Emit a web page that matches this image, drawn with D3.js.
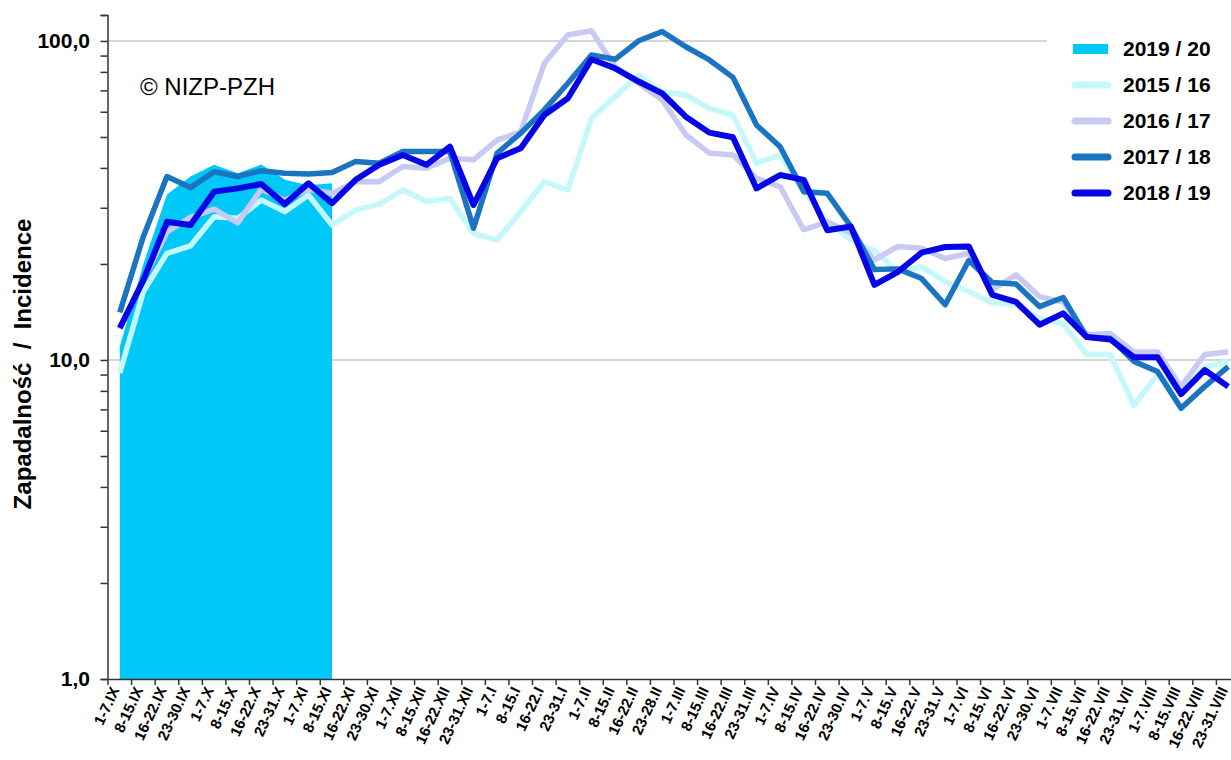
<!DOCTYPE html>
<html>
<head>
<meta charset="utf-8">
<script src="https://cdn.jsdelivr.net/npm/d3@7"></script>
<style>
  body { margin: 0; background: #fff; }
  text { font-family: Arial, "Liberation Sans", sans-serif; }
</style>
</head>
<body>
<div id="chart"></div>
<script>
// week labels (season Sept -> Aug)
var weeks = ["1-7.IX","8-15.IX","16-22.IX","23-30.IX","1-7.X","8-15.X","16-22.X","23-31.X",
  "1-7.XI","8-15.XI","16-22.XI","23-30.XI","1-7.XII","8-15.XII","16-22.XII","23-31.XII",
  "1-7.I","8-15.I","16-22.I","23-31.I","1-7.II","8-15.II","16-22.II","23-28.II",
  "1-7.III","8-15.III","16-22.III","23-31.III","1-7.IV","8-15.IV","16-22.IV","23-30.IV",
  "1-7.V","8-15.V","16-22.V","23-31.V","1-7.VI","8-15.VI","16-22.VI","23-30.VI",
  "1-7.VII","8-15.VII","16-22.VII","23-31.VII","1-7.VIII","8-15.VIII","16-22.VIII","23-31.VIII"];

var s1516 = [9.1,16.4,21.6,22.8,28.1,27.8,31.7,29.2,32.9,26.5,
  29.5,30.8,34.1,31.4,32.1,24.9,23.8,29.2,36.2,34.1,
  57.2,66.9,78.2,69.3,67.7,61.5,58.6,41.4,43.9,34,
  27,23.8,22,18.9,19.6,17.6,16.4,15.1,14.9,13.5,
  13.0,10.4,10.4,7.2,9.0,8.0,9.5,9.9];
var s1617 = [12.5,17.8,25.2,28.0,29.7,26.9,34.3,31.7,34.3,33.3,
  36.2,36.2,40.4,39.9,42.9,42.4,48.9,51.9,85.1,104.4,
  107.7,83.1,73.7,65.3,50.8,44.5,43.9,37.1,34.9,25.6,
  27.1,25.0,20.6,22.7,22.4,20.8,21.6,16.6,18.5,15.8,
  15.2,12.0,12.1,10.6,10.6,8.25,10.4,10.6];
var s1718 = [14.1,24.4,37.6,34.7,38.9,37.6,39.2,38.5,38.3,38.7,
  41.9,41.4,45.0,45.0,45.0,25.9,44.5,51.4,60.8,73.7,
  90.4,87.6,100.1,107,95.9,87.2,76.9,54.5,46.6,33.7,
  33.3,26.2,19.2,19.3,18.0,14.9,20.5,17.5,17.3,14.7,
  15.7,11.8,11.7,9.9,9.2,7.06,8.25,9.53];
var s1819 = [12.6,17.8,27.1,26.5,33.7,34.5,35.6,30.8,35.8,31.0,
  36.7,40.9,43.9,40.9,46.6,30.6,42.9,46.1,58.6,66.1,
  87.6,82.1,74.6,68.5,57.9,51.6,49.9,34.5,38.0,36.7,
  25.5,26.2,17.2,18.9,21.7,22.6,22.7,16.0,15.2,12.9,
  14.0,11.8,11.6,10.2,10.2,7.82,9.3,8.25];
// current season, only the first 10 weeks so far
var s1920 = [11.0,20,33,37.6,40.9,38.5,41,36.7,35.3,35.8];

var yTicks = [1,10,100];

var W = 1231, H = 760;

var svg = d3.select("#chart").append("svg")
  .attr("width", W).attr("height", H);

// scales
var x = d3.scaleBand().domain(weeks).range([108, 1240]).padding(0);
var cx = function(d) { return x(d) + x.bandwidth() / 2; };
var y = d3.scaleLog().domain([1, 120.6]).range([679, 15]);

// gridlines
svg.append("g").selectAll("line")
  .data([10, 100]).enter().append("line")
  .attr("x1", 108).attr("x2", W)
  .attr("y1", d => y(d)).attr("y2", d => y(d))
  .attr("stroke", "#c8c8c8").attr("stroke-width", 1.5);

// 2019/20 area
var area = d3.area()
  .x((d, i) => cx(weeks[i]))
  .y0(y(1))
  .y1(d => y(d));
svg.append("path").datum(s1920)
  .attr("fill", "#00c8f8")
  .attr("d", area);

// lines
var line = d3.line()
  .x((d, i) => cx(weeks[i]))
  .y(d => y(d));

var series = [
  {name: "2015 / 16", data: s1516, color: "#c4f8fb", w: 5.5},
  {name: "2016 / 17", data: s1617, color: "#c9c9f5", w: 5.5},
  {name: "2017 / 18", data: s1718, color: "#1a74c2", w: 5.5},
  {name: "2018 / 19", data: s1819, color: "#0505e6", w: 6}
];
series.forEach(function(s) {
  svg.append("path").datum(s.data)
    .attr("fill", "none")
    .attr("stroke", s.color)
    .attr("stroke-width", s.w)
    .attr("stroke-linejoin", "round")
    .attr("d", line);
});

// y axis (log, with minor ticks)
var minor = [];
[1, 10, 100].forEach(function(b) {
  for (var k = 1; k < 10; k++) if (b * k <= 120.6) minor.push(b * k);
});
minor.push(120.6);
var yAxis = svg.append("g")
  .attr("transform", "translate(107.5,0)")
  .call(d3.axisLeft(y).tickValues(minor).tickSize(7).tickFormat(""));
yAxis.select(".domain").attr("stroke", "#333").attr("stroke-width", 1.5);
yAxis.selectAll(".tick line").attr("stroke", "#333").attr("stroke-width", 1.5);

svg.append("g").selectAll("text")
  .data(yTicks).enter().append("text")
  .attr("x", 90).attr("y", d => y(d) + 7)
  .attr("text-anchor", "end")
  .attr("font-size", 21).attr("font-weight", "bold")
  .text(d => d3.format(".1f")(d).replace(".", ","));

// x axis
var xAxis = svg.append("g")
  .attr("transform", "translate(0,679)")
  .call(d3.axisBottom(x).tickSize(0).tickFormat(""));
xAxis.select(".domain").attr("stroke", "#333").attr("stroke-width", 1.5);
svg.append("g").selectAll("line")
  .data(weeks).enter().append("line")
  .attr("x1", d => x(d)).attr("x2", d => x(d))
  .attr("y1", 679).attr("y2", 685)
  .attr("stroke", "#333").attr("stroke-width", 1.5);

svg.append("g").selectAll("text")
  .data(weeks).enter().append("text")
  .attr("transform", d => "translate(" + cx(d) + ",690) rotate(-65)")
  .attr("text-anchor", "end")
  .attr("font-size", 15).attr("font-weight", "bold")
  .text(d => d);

// axis title
svg.append("text")
  .attr("transform", "translate(31,364) rotate(-90)")
  .attr("text-anchor", "middle")
  .attr("font-size", 24).attr("font-weight", "bold")
  .style("white-space", "pre")
  .text("Zapadalność  /  Incidence");

// copyright
svg.append("text")
  .attr("x", 140).attr("y", 95)
  .attr("font-size", 24)
  .text("© NIZP-PZH");

// legend
var lg = svg.append("g");
lg.append("rect").attr("x", 1047).attr("y", 30).attr("width", 184).attr("height", 178).attr("fill", "#fff");
var legendItems = [{name: "2019 / 20", color: "#00c8f8", area: true}].concat(series);
legendItems.forEach(function(s, i) {
  var ly = 49 + i * 36;
  if (s.area) {
    lg.append("rect").attr("x", 1073).attr("y", ly - 5).attr("width", 35).attr("height", 10).attr("fill", s.color);
  } else {
    lg.append("line").attr("x1", 1075).attr("x2", 1108).attr("y1", ly).attr("y2", ly)
      .attr("stroke", s.color).attr("stroke-width", 7).attr("stroke-linecap", "round");
  }
  lg.append("text").attr("x", 1123).attr("y", ly + 7)
    .attr("font-size", 21).attr("font-weight", "bold")
    .text(s.name);
});
</script>
</body>
</html>
